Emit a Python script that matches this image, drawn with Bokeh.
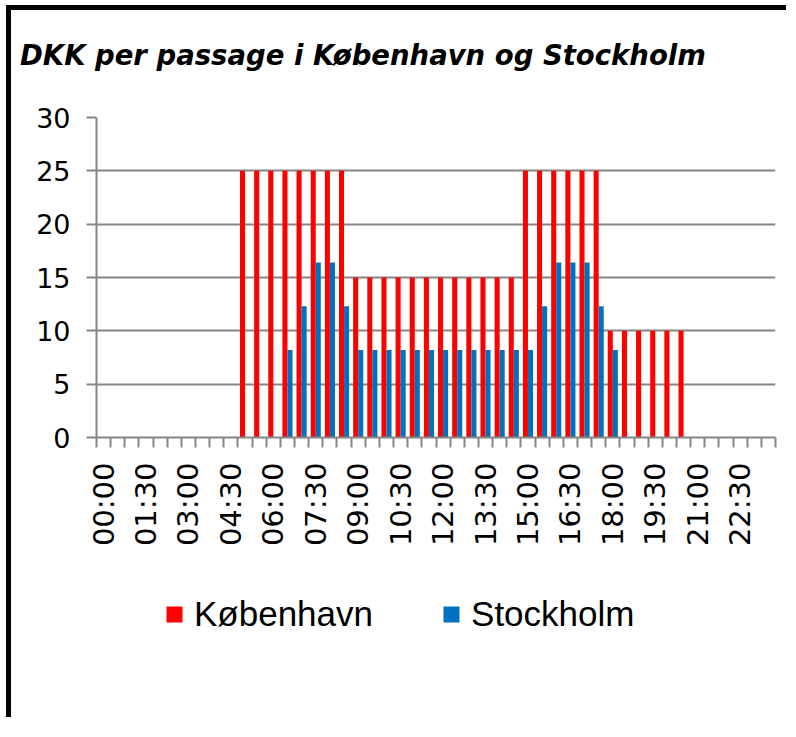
import math
from bokeh.plotting import figure
from bokeh.layouts import column
from bokeh.models import (ColumnDataSource, Range1d, LinearAxis,
                          FixedTicker, Legend, LegendItem, Grid, Div)
from bokeh.transform import dodge
from bokeh.embed import file_html
from bokeh.resources import INLINE

times = ["00:00", "00:30", "01:00", "01:30", "02:00", "02:30", "03:00", "03:30",
         "04:00", "04:30", "05:00", "05:30", "06:00", "06:30", "07:00", "07:30",
         "08:00", "08:30", "09:00", "09:30", "10:00", "10:30", "11:00", "11:30",
         "12:00", "12:30", "13:00", "13:30", "14:00", "14:30", "15:00", "15:30",
         "16:00", "16:30", "17:00", "17:30", "18:00", "18:30", "19:00", "19:30",
         "20:00", "20:30", "21:00", "21:30", "22:00", "22:30", "23:00", "23:30"]

kobenhavn = [0, 0, 0, 0, 0, 0, 0, 0, 0, 0,
             25, 25, 25, 25, 25, 25, 25, 25,
             15, 15, 15, 15, 15, 15, 15, 15, 15, 15, 15, 15,
             25, 25, 25, 25, 25, 25,
             10, 10, 10, 10, 10, 10,
             0, 0, 0, 0, 0, 0]

stockholm = [0, 0, 0, 0, 0, 0, 0, 0, 0, 0, 0, 0, 0,
             8.2, 12.3, 16.4, 16.4, 12.3,
             8.2, 8.2, 8.2, 8.2, 8.2, 8.2, 8.2, 8.2, 8.2, 8.2, 8.2, 8.2, 8.2,
             12.3, 16.4, 16.4, 16.4, 12.3, 8.2,
             0, 0, 0, 0, 0, 0, 0, 0, 0, 0, 0]

shown_labels = ["00:00", "01:30", "03:00", "04:30", "06:00", "07:30", "09:00", "10:30",
                "12:00", "13:30", "15:00", "16:30", "18:00", "19:30", "21:00", "22:30"]

y_ticks = [0, 5, 10, 15, 20, 25, 30]

title_text = "DKK per passage i København og Stockholm"
series_names = ["København", "Stockholm"]
colors = ["#FF0000", "#0070C0"]
GRAY = "#868686"

W = 775
BL, BR = 85, 11          # left/right borders (frames are aligned in the column)

# ---------------- title strip ----------------
TH = 87
pt = Div(text=('<div style="padding-top:29px; padding-left:9px; text-align:center; '
               'white-space:nowrap; font-family:\'DejaVu Sans\'; font-style:italic; '
               'font-weight:bold; font-size:27.5px; line-height:normal; color:black;">'
               + title_text + '</div>'),
         width=W, height=TH, margin=0)

# ---------------- main chart ----------------
slot_center = [i + 0.5 for i in range(len(times))]
slot_edges = list(range(len(times) + 1))
src = ColumnDataSource(dict(time=times, xc=slot_center, kbh=kobenhavn, sth=stockholm))

p = figure(width=W, height=470, title=None,
           x_range=Range1d(0, len(times)),
           y_range=Range1d(0, y_ticks[-1]),
           output_backend="svg", toolbar_location=None,
           x_axis_location=None, y_axis_location=None,
           min_border_left=BL, min_border_right=BR,
           min_border_top=20, min_border_bottom=130)
p.center = []
p.outline_line_color = None

p.add_layout(Grid(dimension=1, ticker=FixedTicker(ticks=y_ticks),
                  grid_line_color=GRAY, grid_line_width=2))

bw = 0.357
p.vbar(x=dodge("xc", -bw / 2), top="kbh", width=bw,
       source=src, fill_color=colors[0], line_color=None)
p.vbar(x=dodge("xc", bw / 2), top="sth", width=bw,
       source=src, fill_color=colors[1], line_color=None)

yax = LinearAxis(ticker=FixedTicker(ticks=y_ticks))
yax.axis_line_color = GRAY
yax.axis_line_width = 2
yax.major_tick_line_color = GRAY
yax.major_tick_line_width = 2
yax.major_tick_out = 10
yax.major_tick_in = 0
yax.minor_tick_line_color = None
yax.major_label_text_font = "DejaVu Sans"
yax.major_label_text_font_size = "27px"
yax.major_label_text_color = "black"
yax.major_label_standoff = 16
p.add_layout(yax, "left")

lab_pos = [c for c, t in zip(slot_center, times) if t in shown_labels]
xax = LinearAxis(ticker=FixedTicker(ticks=lab_pos, minor_ticks=slot_edges),
                 major_label_overrides={c: t for c, t in zip(slot_center, times) if t in shown_labels})
xax.axis_line_color = GRAY
xax.axis_line_width = 2
xax.major_tick_line_color = None
xax.major_tick_out = 0
xax.major_tick_in = 0
xax.minor_tick_line_color = GRAY
xax.minor_tick_line_width = 2
xax.minor_tick_out = 10
xax.minor_tick_in = 0
xax.major_label_orientation = math.pi / 2
xax.major_label_text_font = "DejaVu Sans"
xax.major_label_text_font_size = "29px"
xax.major_label_text_color = "black"
xax.major_label_standoff = 15
p.add_layout(xax, "below")

# ---------------- legend strip ----------------
LH = 150
pl = figure(width=W, height=LH, title=None,
            x_range=Range1d(BL, W - BR), y_range=Range1d(0, LH),
            output_backend="svg", toolbar_location=None,
            x_axis_location=None, y_axis_location=None,
            min_border_left=BL, min_border_right=BR, min_border_top=0, min_border_bottom=0)
pl.center = []
pl.outline_line_color = None
# one zero-height row so the legend swatches have a style to draw with
legend_src = ColumnDataSource(dict(xc=[0], kbh=[0], sth=[0]))
l1 = pl.vbar(x="xc", top="kbh", width=bw, source=legend_src, fill_color=colors[0], line_color=None)
l2 = pl.vbar(x="xc", top="sth", width=bw, source=legend_src, fill_color=colors[1], line_color=None)
legend = Legend(items=[LegendItem(label=series_names[0], renderers=[l1], index=0),
                       LegendItem(label=series_names[1], renderers=[l2], index=0)],
                location=(68, 83), orientation="horizontal",
                glyph_width=20, glyph_height=20, label_standoff=10, spacing=68,
                padding=0, margin=0, border_line_color=None, background_fill_alpha=0,
                label_text_font="Liberation Sans", label_text_font_size="35px",
                label_text_color="black")
pl.add_layout(legend, "center")

layout = column(pt, p, pl, spacing=0)
layout.styles = {"border-top": "5px solid black", "border-left": "5px solid black",
                 "margin-left": "6px", "margin-top": "5px"}

open("out.html", "w").write(file_html(layout, INLINE))
